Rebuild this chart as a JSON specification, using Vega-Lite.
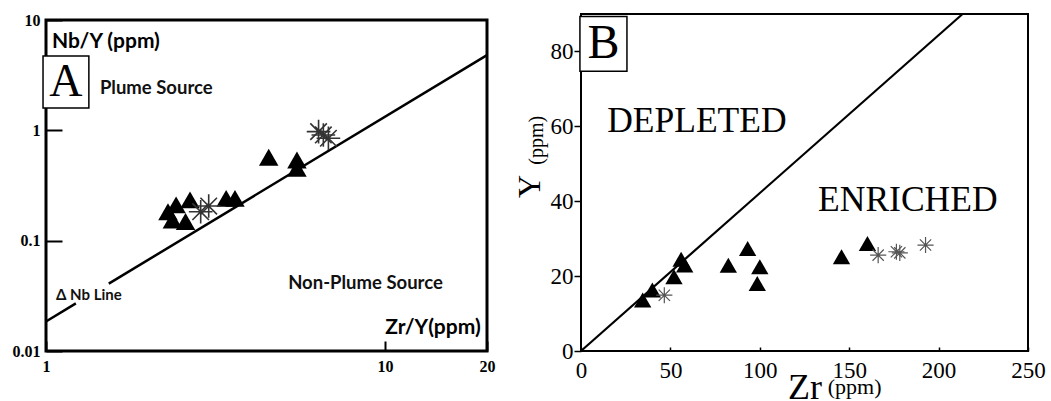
{
  "$schema": "https://vega.github.io/schema/vega-lite/v6.json",
  "background": "white",
  "padding": {"left": 10, "top": 8, "right": 5, "bottom": 0},
  "spacing": 15,
  "config": {"axis": {"grid": false}, "view": {"stroke": "black"}},
  "datasets": {
    "aLine": [
      {"x": 1, "y": 0.0185, "seg": "a"},
      {"x": 1.225, "y": 0.027, "seg": "a"},
      {"x": 1.532, "y": 0.0408, "seg": "b"},
      {"x": 20, "y": 4.8, "seg": "b"}
    ],
    "aPoints": [
      {"x": 2.29, "y": 0.183, "group": "triangle"},
      {"x": 2.42, "y": 0.211, "group": "triangle"},
      {"x": 2.36, "y": 0.154, "group": "triangle"},
      {"x": 2.66, "y": 0.234, "group": "triangle"},
      {"x": 2.58, "y": 0.149, "group": "triangle"},
      {"x": 3.40, "y": 0.242, "group": "triangle"},
      {"x": 3.61, "y": 0.242, "group": "triangle"},
      {"x": 4.54, "y": 0.570, "group": "triangle"},
      {"x": 5.50, "y": 0.539, "group": "triangle"},
      {"x": 5.50, "y": 0.453, "group": "triangle"},
      {"x": 2.86, "y": 0.183, "group": "asterisk"},
      {"x": 3.02, "y": 0.206, "group": "asterisk"},
      {"x": 6.37, "y": 0.973, "group": "asterisk"},
      {"x": 6.58, "y": 0.908, "group": "asterisk"},
      {"x": 6.81, "y": 0.848, "group": "asterisk"}
    ],
    "aTitles": [
      {"x": 1.041, "y": 6.3, "text": "Nb/Y (ppm)"},
      {"x": 10.02, "y": 0.01616, "text": "Zr/Y(ppm)"}
    ],
    "aRegions": [
      {"x": 1.442, "y": 2.42, "text": "Plume Source"},
      {"x": 5.18, "y": 0.0413, "text": "Non-Plume Source"}
    ],
    "aSmall": [
      {"x": 1.07, "y": 0.0322, "text": "Δ Nb Line"}
    ],
    "aBox": [
      {"x": 0.98, "x2": 1.338, "y": 1.593, "y2": 4.72, "cx": 1.145, "cy": 2.74, "text": "A"}
    ],
    "bLine": [
      {"x": 0, "y": 0},
      {"x": 213.4, "y": 90}
    ],
    "bPoints": [
      {"x": 34.5, "y": 13.6, "group": "triangle"},
      {"x": 39.9, "y": 16.3, "group": "triangle"},
      {"x": 52, "y": 19.8, "group": "triangle"},
      {"x": 56, "y": 24.5, "group": "triangle"},
      {"x": 58, "y": 23.0, "group": "triangle"},
      {"x": 82.4, "y": 22.9, "group": "triangle"},
      {"x": 93.2, "y": 27.4, "group": "triangle"},
      {"x": 100, "y": 22.5, "group": "triangle"},
      {"x": 98.6, "y": 18.0, "group": "triangle"},
      {"x": 145.7, "y": 25.2, "group": "triangle"},
      {"x": 160.2, "y": 28.7, "group": "triangle"},
      {"x": 46.6, "y": 14.9, "group": "asterisk"},
      {"x": 166.2, "y": 25.6, "group": "asterisk"},
      {"x": 176.4, "y": 26.5, "group": "asterisk"},
      {"x": 178.3, "y": 26.2, "group": "asterisk"},
      {"x": 192.7, "y": 28.3, "group": "asterisk"}
    ],
    "bRegions": [
      {"x": 64.8, "y": 61.3, "text": "DEPLETED"},
      {"x": 182.8, "y": 40.3, "text": "ENRICHED"}
    ],
    "bBox": [
      {"x": -0.6, "x2": 25.7, "y": 74.7, "y2": 89.3, "cx": 12.6, "cy": 81.9, "text": "B"}
    ],
    "bUnits": [
      {"x": 138, "y": -9.6, "text": "(ppm)"}
    ],
    "bUnitsY": [
      {"x": -24.6, "y": 56.3, "text": "(ppm)"}
    ]
  },
  "hconcat": [
    {
      "spacing": -5,
      "vconcat": [
        {
          "width": 441,
          "height": 1,
          "data": {"values": []},
          "mark": {"type": "point", "opacity": 0},
          "view": {"stroke": null}
        },
        {
          "width": 441,
          "height": 331,
          "view": {"stroke": "black", "strokeWidth": 3},
          "layer": [
            {
              "data": {"name": "aLine"},
              "mark": {"type": "line", "color": "black", "strokeWidth": 2.5},
              "encoding": {
                "x": {
                  "field": "x", "type": "quantitative",
                  "scale": {"type": "log", "domain": [1, 20], "nice": false},
                  "axis": {
                    "values": [1, 10, 20], "format": "~g", "title": null, "domain": false,
                    "tickSize": -10, "tickWidth": 2, "tickColor": "black",
                    "labelPadding": 17, "labelFont": "Liberation Serif", "labelFontWeight": "bold",
                    "labelFontSize": 16, "labelColor": "black", "labelFlush": false
                  }
                },
                "y": {
                  "field": "y", "type": "quantitative",
                  "scale": {"type": "log", "domain": [0.01, 10], "nice": false},
                  "axis": {
                    "values": [0.01, 0.1, 1, 10], "format": "~g", "title": null, "domain": false,
                    "tickSize": -16, "tickWidth": 2, "tickColor": "black",
                    "labelPadding": 22, "labelFont": "Liberation Serif", "labelFontWeight": "bold",
                    "labelFontSize": 16, "labelColor": "black", "labelFlush": false
                  }
                },
                "detail": {"field": "seg"}
              }
            },
            {
              "data": {"name": "aBox"},
              "mark": {"type": "rect", "fill": "white", "stroke": "black", "strokeWidth": 1.5},
              "encoding": {
                "x": {"field": "x", "type": "quantitative"},
                "x2": {"field": "x2"},
                "y": {"field": "y", "type": "quantitative"},
                "y2": {"field": "y2"}
              }
            },
            {
              "data": {"name": "aBox"},
              "mark": {"type": "text", "font": "Liberation Serif", "fontSize": 46, "color": "black", "baseline": "middle", "align": "center"},
              "encoding": {
                "x": {"field": "cx", "type": "quantitative"},
                "y": {"field": "cy", "type": "quantitative"},
                "text": {"field": "text"}
              }
            },
            {
              "data": {"name": "aTitles"},
              "mark": {"type": "text", "font": "Lato", "fontWeight": "bold", "fontSize": 21, "color": "black", "align": "left", "baseline": "middle"},
              "encoding": {
                "x": {"field": "x", "type": "quantitative"},
                "y": {"field": "y", "type": "quantitative"},
                "text": {"field": "text"}
              }
            },
            {
              "data": {"name": "aRegions"},
              "mark": {"type": "text", "font": "Lato", "fontWeight": "bold", "fontSize": 18.5, "color": "#111", "align": "left", "baseline": "middle"},
              "encoding": {
                "x": {"field": "x", "type": "quantitative"},
                "y": {"field": "y", "type": "quantitative"},
                "text": {"field": "text"}
              }
            },
            {
              "data": {"name": "aSmall"},
              "mark": {"type": "text", "font": "Lato", "fontWeight": "bold", "fontSize": 15, "color": "#111", "align": "left", "baseline": "middle"},
              "encoding": {
                "x": {"field": "x", "type": "quantitative"},
                "y": {"field": "y", "type": "quantitative"},
                "text": {"field": "text"}
              }
            },
            {
              "data": {"name": "aPoints"},
              "transform": [{"filter": "datum.group == 'triangle'"}],
              "mark": {"type": "point", "shape": "triangle-up", "filled": true, "color": "black", "opacity": 1, "size": 380},
              "encoding": {
                "x": {"field": "x", "type": "quantitative"},
                "y": {"field": "y", "type": "quantitative"}
              }
            },
            {
              "data": {"name": "aPoints"},
              "transform": [{"filter": "datum.group == 'asterisk'"}],
              "mark": {"type": "point", "shape": "M-1,0L1,0M0,-1L0,1M-0.7,-0.7L0.7,0.7M-0.7,0.7L0.7,-0.7", "filled": false, "stroke": "#333", "strokeWidth": 1.6, "opacity": 1, "size": 560},
              "encoding": {
                "x": {"field": "x", "type": "quantitative"},
                "y": {"field": "y", "type": "quantitative"}
              }
            }
          ]
        }
      ]
    },
    {
      "width": 447,
      "height": 337,
      "view": {"stroke": "black", "strokeWidth": 2},
      "layer": [
        {
          "data": {"name": "bLine"},
          "mark": {"type": "line", "color": "black", "strokeWidth": 2.2},
          "encoding": {
            "x": {
              "field": "x", "type": "quantitative",
              "scale": {"domain": [0, 250], "nice": false, "zero": false},
              "axis": {
                "values": [0, 50, 100, 150, 200, 250], "title": "Zr", "domain": false,
                "tickSize": -4, "tickWidth": 1.5, "tickColor": "black",
                "labelPadding": 12, "labelFont": "Liberation Serif",
                "labelFontSize": 23, "labelColor": "black", "labelFlush": false,
                "titleFont": "Liberation Serif", "titleFontSize": 36, "titleFontWeight": "normal",
                "titleColor": "black", "titlePadding": -12
              }
            },
            "y": {
              "field": "y", "type": "quantitative",
              "scale": {"domain": [0, 90], "nice": false, "zero": false},
              "axis": {
                "values": [0, 20, 40, 60, 80], "title": "Y", "domain": false,
                "tickSize": 7, "tickWidth": 1.5, "tickColor": "black",
                "labelPadding": 1, "labelFont": "Liberation Serif",
                "labelFontSize": 23, "labelColor": "black", "labelFlush": false,
                "titleFont": "Liberation Serif", "titleFontSize": 32, "titleFontWeight": "normal",
                "titleColor": "black", "titlePadding": 4, "titleY": 172
              }
            }
          }
        },
        {
          "data": {"name": "bBox"},
          "mark": {"type": "rect", "fill": "white", "stroke": "black", "strokeWidth": 1.5},
          "encoding": {
            "x": {"field": "x", "type": "quantitative"},
            "x2": {"field": "x2"},
            "y": {"field": "y", "type": "quantitative"},
            "y2": {"field": "y2"}
          }
        },
        {
          "data": {"name": "bBox"},
          "mark": {"type": "text", "font": "Liberation Serif", "fontSize": 48, "color": "black", "baseline": "middle", "align": "center"},
          "encoding": {
            "x": {"field": "cx", "type": "quantitative"},
            "y": {"field": "cy", "type": "quantitative"},
            "text": {"field": "text"}
          }
        },
        {
          "data": {"name": "bRegions"},
          "mark": {"type": "text", "font": "Liberation Serif", "fontSize": 35.5, "color": "black", "align": "center", "baseline": "middle"},
          "encoding": {
            "x": {"field": "x", "type": "quantitative"},
            "y": {"field": "y", "type": "quantitative"},
            "text": {"field": "text"}
          }
        },
        {
          "data": {"name": "bUnits"},
          "mark": {"type": "text", "font": "Liberation Serif", "fontSize": 22, "color": "black", "align": "left", "baseline": "middle"},
          "encoding": {
            "x": {"field": "x", "type": "quantitative"},
            "y": {"field": "y", "type": "quantitative"},
            "text": {"field": "text"}
          }
        },
        {
          "data": {"name": "bUnitsY"},
          "mark": {"type": "text", "font": "Liberation Serif", "fontSize": 20, "color": "black", "align": "center", "baseline": "middle", "angle": 270},
          "encoding": {
            "x": {"field": "x", "type": "quantitative"},
            "y": {"field": "y", "type": "quantitative"},
            "text": {"field": "text"}
          }
        },
        {
          "data": {"name": "bPoints"},
          "transform": [{"filter": "datum.group == 'triangle'"}],
          "mark": {"type": "point", "shape": "triangle-up", "filled": true, "color": "black", "opacity": 1, "size": 300},
          "encoding": {
            "x": {"field": "x", "type": "quantitative"},
            "y": {"field": "y", "type": "quantitative"}
          }
        },
        {
          "data": {"name": "bPoints"},
          "transform": [{"filter": "datum.group == 'asterisk'"}],
          "mark": {"type": "point", "shape": "M-1,0L1,0M0,-1L0,1M-0.7,-0.7L0.7,0.7M-0.7,0.7L0.7,-0.7", "filled": false, "stroke": "#555", "strokeWidth": 1.2, "opacity": 1, "size": 260},
          "encoding": {
            "x": {"field": "x", "type": "quantitative"},
            "y": {"field": "y", "type": "quantitative"}
          }
        }
      ]
    }
  ]
}
